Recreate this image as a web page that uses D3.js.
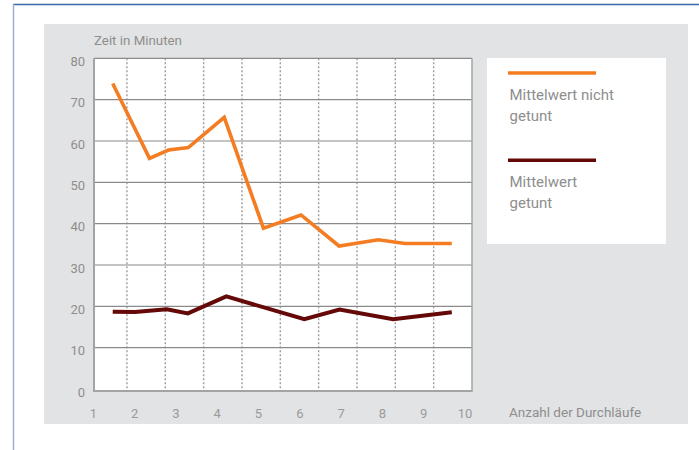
<!DOCTYPE html>
<html>
<head>
<meta charset="utf-8">
<script src="https://cdn.jsdelivr.net/npm/d3@7"></script>
<style>
body { margin: 0; background: #fff; }
svg { display: block; }
text { font-family: Roboto, sans-serif; }
</style>
</head>
<body>
<svg id="chart"></svg>
<script>
var width = 699, height = 450

// data
var xTicks = [1, 2, 3, 4, 5, 6, 7, 8, 9, 10]
var yTicks = [0, 10, 20, 30, 40, 50, 60, 70, 80]
var gridLines = [1, 2, 3, 4, 5, 6, 7, 8, 9]
var legendLines = [['Mittelwert nicht', 'getunt'], ['Mittelwert', 'getunt']]
var ungetuntX = [1.47, 2.36, 2.82, 3.30, 4.17, 5.12, 6.03, 6.95, 7.90, 8.55, 9.68]
var ungetuntY = [73.9, 55.8, 57.8, 58.4, 65.7, 38.9, 42.1, 34.6, 36.1, 35.2, 35.2]
var getuntX = [1.47, 2.01, 2.78, 3.29, 4.22, 6.11, 6.96, 8.26, 9.68]
var getuntY = [18.7, 18.6, 19.3, 18.3, 22.4, 16.9, 19.2, 16.9, 18.55]
var colors = ['#f47d23', '#650808']

var svg = d3.select('#chart')
    .attr('width', width)
    .attr('height', height)

// outer frame
svg.append('line').attr('x1', 13).attr('x2', width).attr('y1', 4.5).attr('y2', 4.5)
    .attr('stroke', '#3a68a6').attr('stroke-width', 1.5)
svg.append('line').attr('x1', 13.5).attr('x2', 13.5).attr('y1', 4).attr('y2', height)
    .attr('stroke', '#9cb1cf').attr('stroke-width', 1.5)

// gray panel
svg.append('rect').attr('x', 44).attr('y', 24).attr('width', 644).attr('height', 400)
    .attr('fill', '#e2e3e4')

var plotLeft = 94, plotRight = 472, plotTop = 58.3, plotBottom = 389

var yScale = d3.scaleLinear().domain([0, 80]).range([plotBottom, plotTop])
var xScale = d3.scaleLinear().domain([1, 10]).range([93.3, 465])
var gridScale = d3.scaleLinear().domain([0, 10]).range([88.6, plotRight])

svg.append('rect')
    .attr('x', plotLeft).attr('y', plotTop)
    .attr('width', plotRight - plotLeft).attr('height', plotBottom + 2 - plotTop)
    .attr('fill', '#fff')

// dotted vertical grid
svg.selectAll('.vgrid')
    .data(gridLines)
    .enter()
    .append('line')
    .attr('class', 'vgrid')
    .attr('x1', function (d) { return gridScale(d) })
    .attr('x2', function (d) { return gridScale(d) })
    .attr('y1', plotTop)
    .attr('y2', plotBottom + 2)
    .attr('stroke', '#9c9c9c')
    .attr('stroke-width', 1.4)
    .attr('stroke-dasharray', '2,2')

// horizontal grid
svg.selectAll('.hgrid')
    .data(yTicks.slice(1))
    .enter()
    .append('line')
    .attr('class', 'hgrid')
    .attr('x1', plotLeft)
    .attr('x2', plotRight)
    .attr('y1', function (d) { return yScale(d) })
    .attr('y2', function (d) { return yScale(d) })
    .attr('stroke', '#8a8a8a')
    .attr('stroke-width', 1.2)

// plot border
svg.append('line').attr('x1', plotLeft).attr('x2', plotLeft).attr('y1', plotTop).attr('y2', plotBottom + 2)
    .attr('stroke', '#a4a4a4').attr('stroke-width', 2)
svg.append('line').attr('x1', plotRight).attr('x2', plotRight).attr('y1', plotTop).attr('y2', plotBottom + 2)
    .attr('stroke', '#a4a4a4').attr('stroke-width', 1.5)
svg.append('line').attr('x1', plotLeft - 1).attr('x2', plotRight + 0.7).attr('y1', plotBottom + 2).attr('y2', plotBottom + 2)
    .attr('stroke', '#a4a4a4').attr('stroke-width', 2)

// y tick labels
svg.selectAll('.ylab')
    .data(yTicks)
    .enter()
    .append('text')
    .attr('class', 'ylab')
    .attr('x', 85)
    .attr('y', function (d) { return yScale(d) + 3 })
    .attr('dy', '0.35em')
    .attr('text-anchor', 'end')
    .attr('font-size', 13)
    .attr('fill', '#8e8e8e')
    .text(function (d) { return d })

// x tick labels
svg.selectAll('.xlab')
    .data(xTicks)
    .enter()
    .append('text')
    .attr('class', 'xlab')
    .attr('x', function (d) { return xScale(d) })
    .attr('y', 413)
    .attr('dy', '0.35em')
    .attr('text-anchor', 'middle')
    .attr('font-size', 13)
    .attr('fill', '#9a9a9a')
    .text(function (d) { return d })

svg.append('text').attr('x', 94).attr('y', 45)
    .attr('font-size', 13.3).attr('fill', '#8e8e8e')
    .text('Zeit in Minuten')
svg.append('text').attr('x', 509).attr('y', 416.5)
    .attr('font-size', 13.5).attr('fill', '#8e8e8e')
    .text('Anzahl der Durchläufe')

// lines
var line = d3.line()
    .x(function (d) { return xScale(d[0]) })
    .y(function (d) { return yScale(d[1]) })

var series = [d3.zip(ungetuntX, ungetuntY), d3.zip(getuntX, getuntY)]
svg.selectAll('.series')
    .data(series)
    .enter()
    .append('path')
    .attr('class', 'series')
    .attr('d', line)
    .attr('fill', 'none')
    .attr('stroke', function (d, i) { return colors[i] })
    .attr('stroke-width', function (d, i) { return i == 0 ? 3.6 : 4 })

// legend
svg.append('rect').attr('x', 487).attr('y', 58).attr('width', 179).attr('height', 186)
    .attr('fill', '#fff')

var legend = svg.selectAll('.legend')
    .data(legendLines)
    .enter()
    .append('g')
    .attr('class', 'legend')
    .attr('transform', function (d, i) { return 'translate(508,' + (73 + i * 87.3) + ')' })

legend.append('line')
    .attr('x1', 0).attr('x2', 88)
    .attr('stroke', function (d, i) { return colors[i] })
    .attr('stroke-width', 3.5)

legend.selectAll('text')
    .data(function (d) { return d })
    .enter()
    .append('text')
    .attr('x', 1.5)
    .attr('y', function (d, i) { return 26.5 + i * 21.5 })
    .attr('font-size', 15)
    .attr('fill', '#8e8e8e')
    .text(function (d) { return d })
</script>
</body>
</html>
